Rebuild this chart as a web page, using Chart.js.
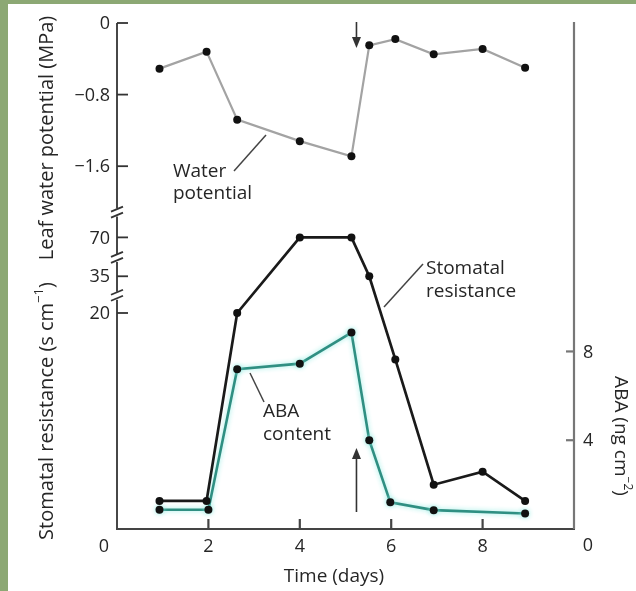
<!DOCTYPE html>
<html>
<head>
<meta charset="utf-8">
<script src="https://cdn.jsdelivr.net/npm/chart.js@4.4.1/dist/chart.umd.min.js"></script>
<style>
  html, body { margin: 0; padding: 0; background: #8ca874; }
  #wrap { width: 636px; height: 591px; }
</style>
</head>
<body>
<div id="wrap"><canvas id="chart"></canvas></div>
<script>
// sampling days
const days = [0.93, 1.96, 2.63, 4.0, 5.13, 5.52, 6.09, 6.93, 8.0, 8.93];
const abaDays = [0.93, 2.0, 2.63, 4.0, 5.13, 5.52, 5.98, 6.93, 8.93];

// series
const waterPotential = [-0.51, -0.32, -1.08, -1.32, -1.49, -0.25, -0.18, -0.35, -0.29, -0.50]; // MPa
const stomatalResistance = [2.6, 2.6, 20, 70, 70, 35, 15.7, 4.1, 5.3, 2.6]; // s cm-1
const abaContent = [0.87, 0.87, 7.2, 7.45, 8.85, 4.0, 1.2, 0.85, 0.7]; // ng cm-2

// tick labels
const xTicks = [2, 4, 6, 8];
const wpTicks = [0, -0.8, -1.6];
const resTicks = [20, 35, 70];
const abaTicks = [4, 8];

const rewaterDay = 5.24;

// broken resistance axis: value -> axis units (linear below 20, squeezed above)
const resKnots = [[0, 0], [20, 20], [35, 23.4], [70, 27.0]];
const resBreaks = [21.6, 25.1, 29.3];
function resAxis(v) {
    for (let i = 1; i < resKnots.length; i++) {
        const [v0, u0] = resKnots[i - 1], [v1, u1] = resKnots[i];
        if (v <= v1) return u0 + (v - v0) / (v1 - v0) * (u1 - u0);
    }
    return resKnots[resKnots.length - 1][1];
}

const FONT = '"Open Sans", "DejaVu Sans", sans-serif';
const INK = '#262626';

function richText(ctx, parts, x, y, angle, size) {
    ctx.save();
    ctx.translate(x, y);
    ctx.rotate(angle);
    const fonts = parts.map(p => (p.sup ? Math.round(size * 0.65) : size) + 'px ' + FONT);
    let total = 0;
    const widths = parts.map((p, i) => {
        ctx.font = fonts[i];
        const w = ctx.measureText(p.t).width;
        total += w;
        return w;
    });
    let cx = -total / 2;
    ctx.textBaseline = 'middle';
    ctx.textAlign = 'left';
    ctx.fillStyle = INK;
    parts.forEach((p, i) => {
        ctx.font = fonts[i];
        ctx.fillText(p.t, cx, p.sup ? -size * 0.38 : 0);
        cx += widths[i];
    });
    ctx.restore();
}

function arrow(ctx, x, yFrom, yTo) {
    const dir = yTo > yFrom ? 1 : -1;
    ctx.beginPath();
    ctx.moveTo(x, yFrom);
    ctx.lineTo(x, yTo - dir * 8);
    ctx.stroke();
    ctx.beginPath();
    ctx.moveTo(x, yTo);
    ctx.lineTo(x - 4.5, yTo - dir * 11);
    ctx.lineTo(x + 4.5, yTo - dir * 11);
    ctx.closePath();
    ctx.fill();
}

function line(ctx, x1, y1, x2, y2) {
    ctx.beginPath();
    ctx.moveTo(x1, y1);
    ctx.lineTo(x2, y2);
    ctx.stroke();
}

const decor = {
    id: 'decor',
    beforeDraw(chart) {
        const ctx = chart.ctx;
        ctx.save();
        ctx.fillStyle = '#8ca874';
        ctx.fillRect(0, 0, chart.width, chart.height);
        ctx.fillStyle = '#ffffff';
        ctx.fillRect(8, 4, chart.width - 8, chart.height - 4);
        ctx.restore();
    },
    beforeDatasetsDraw(chart) {
        const { ctx, chartArea: a, scales: s } = chart;
        ctx.save();
        ctx.fillStyle = INK;
        ctx.font = '18px ' + FONT;

        // left axis with breaks
        const L = a.left;
        const gaps = resBreaks.map(u => s.yRes.getPixelForValue(u));
        ctx.strokeStyle = '#333';
        ctx.lineWidth = 1.8;
        let yStart = a.top;
        gaps.slice().sort((p, q) => p - q).forEach(g => {
            line(ctx, L, yStart, L, g - 4);
            yStart = g + 4;
            line(ctx, L - 6, g - 1, L + 6, g - 6);
            line(ctx, L - 6, g + 5, L + 6, g);
        });
        line(ctx, L, yStart, L, a.bottom);

        // left ticks
        ctx.textAlign = 'right';
        ctx.textBaseline = 'middle';
        wpTicks.forEach(v => {
            const y = s.yWP.getPixelForValue(v);
            line(ctx, L, y, L + 11, y);
            ctx.fillText(v === 0 ? '0' : '\u2212' + Math.abs(v).toFixed(1), L - 7, y + 1);
        });
        resTicks.forEach(v => {
            const y = s.yRes.getPixelForValue(resAxis(v));
            line(ctx, L, y, L + 11, y);
            ctx.fillText(String(v), L - 7, y + 1);
        });

        // bottom axis
        ctx.strokeStyle = '#444';
        ctx.lineWidth = 2.2;
        line(ctx, L - 1, a.bottom, a.right + 1, a.bottom);
        ctx.textAlign = 'center';
        xTicks.forEach(v => {
            const x = s.x.getPixelForValue(v);
            line(ctx, x, a.bottom, x, a.bottom - 10);
            ctx.fillText(String(v), x, a.bottom + 18);
        });
        ctx.fillText('0', L - 13, a.bottom + 18);

        // right axis
        ctx.strokeStyle = '#777';
        line(ctx, a.right, a.top - 1, a.right, a.bottom);
        ctx.textAlign = 'left';
        abaTicks.forEach(v => {
            const y = s.yABA.getPixelForValue(v);
            line(ctx, a.right - 8, y, a.right, y);
            ctx.fillText(String(v), a.right + 9, y + 1);
        });
        ctx.textAlign = 'center';
        ctx.fillText('0', a.right + 14, a.bottom + 17);
        ctx.restore();
    },
    afterDraw(chart) {
        const { ctx, chartArea: a, scales: s } = chart;
        ctx.save();
        // axis titles
        richText(ctx, [{ t: 'Leaf water potential (MPa)' }], 47, 138, -Math.PI / 2, 20);
        richText(ctx, [{ t: 'Stomatal resistance (s cm' }, { t: '\u22121', sup: true }, { t: ')' }], 47, 411, -Math.PI / 2, 20);
        richText(ctx, [{ t: 'ABA (ng cm' }, { t: '\u22122', sup: true }, { t: ')' }], 620, 436, Math.PI / 2, 19);
        richText(ctx, [{ t: 'Time (days)' }], 334, 577, 0, 19);

        // series labels
        ctx.fillStyle = INK;
        ctx.font = '19px ' + FONT;
        ctx.textAlign = 'left';
        ctx.textBaseline = 'alphabetic';
        ctx.fillText('Water', 173, 177);
        ctx.fillText('potential', 173, 199);
        ctx.fillText('Stomatal', 426, 274);
        ctx.fillText('resistance', 426, 297);
        ctx.fillText('ABA', 263, 417);
        ctx.fillText('content', 263, 440);

        ctx.strokeStyle = '#444';
        ctx.lineWidth = 1.5;
        line(ctx, 234, 171, 266, 135);
        line(ctx, 423, 264, 384, 307);
        line(ctx, 250, 373, 264, 402);

        // rewatering arrows
        const xr = s.x.getPixelForValue(rewaterDay);
        ctx.strokeStyle = '#333';
        ctx.fillStyle = '#333';
        ctx.lineWidth = 1.6;
        arrow(ctx, xr, 22, 48);
        arrow(ctx, xr, 512, 448);
        ctx.restore();
    },
    beforeDatasetDraw(chart, args) {
        if (args.meta.yAxisID === 'yABA') {
            chart.ctx.save();
            chart.ctx.shadowColor = 'rgba(140, 235, 225, 0.95)';
            chart.ctx.shadowBlur = 5;
        }
    },
    afterDatasetDraw(chart, args) {
        if (args.meta.yAxisID === 'yABA') chart.ctx.restore();
    }
};

const pointStyle = {
    pointRadius: 4,
    pointBackgroundColor: '#111',
    pointBorderWidth: 0,
    tension: 0
};

new Chart(document.getElementById('chart'), {
    type: 'line',
    data: {
        datasets: [{
            label: 'Water potential',
            data: days.map((d, i) => ({ x: d, y: waterPotential[i] })),
            borderColor: '#a3a3a3',
            borderWidth: 2.2,
            yAxisID: 'yWP',
            ...pointStyle
        }, {
            label: 'Stomatal resistance',
            data: days.map((d, i) => ({ x: d, y: resAxis(stomatalResistance[i]) })),
            borderColor: '#1a1a1a',
            borderWidth: 2.7,
            yAxisID: 'yRes',
            ...pointStyle
        }, {
            label: 'ABA content',
            data: abaDays.map((d, i) => ({ x: d, y: abaContent[i] })),
            borderColor: '#2f8f82',
            borderWidth: 2.6,
            yAxisID: 'yABA',
            ...pointStyle
        }]
    },
    options: {
        responsive: true,
        maintainAspectRatio: false,
        animation: false,
        layout: { padding: { left: 117, right: 62, top: 23, bottom: 62 } },
        plugins: { legend: { display: false }, tooltip: { enabled: false } },
        scales: {
            x: { type: 'linear', min: 0, max: 10, display: false },
            yWP: { type: 'linear', min: -5.654, max: 0, display: false },
            yRes: { type: 'linear', min: 0, max: 46.85, display: false },
            yABA: { type: 'linear', min: 0, max: 22.8, display: false }
        }
    },
    plugins: [decor]
});
</script>
</body>
</html>
